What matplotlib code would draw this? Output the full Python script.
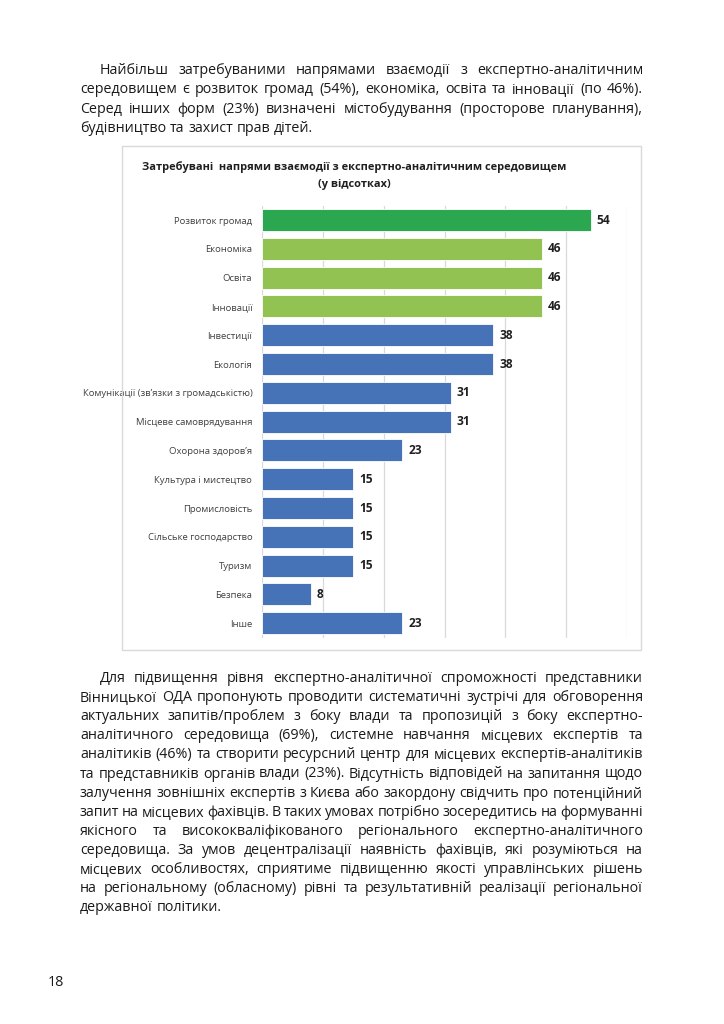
import matplotlib
matplotlib.use('Agg')
import matplotlib.pyplot as plt
from matplotlib.patches import Rectangle

plt.rcParams['font.family'] = ['Open Sans', 'Noto Sans', 'DejaVu Sans']

categories = ['Розвиток громад', 'Економіка', 'Освіта', 'Інновації', 'Інвестиції',
              'Екологія', 'Комунікації (зв’язки з громадськістю)', 'Місцеве самоврядування',
              'Охорона здоров’я', 'Культура і мистецтво', 'Промисловість',
              'Сільське господарство', 'Туризм', 'Безпека', 'Інше']
values = [54, 46, 46, 46, 38, 38, 31, 31, 23, 15, 15, 15, 15, 8, 23]
bar_colors = ['#2ba84f'] + ['#92c352'] * 3 + ['#4672b8'] * 11

title = 'Затребувані  напрями взаємодії з експертно-аналітичним середовищем\n(у відсотках)'

para1 = ['Найбільш затребуваними напрямами взаємодії з експертно-аналітичним',
         'середовищем є розвиток громад (54%), економіка, освіта та інновації (по 46%).',
         'Серед інших форм (23%) визначені містобудування (просторове планування),',
         'будівництво та захист прав дітей.']
para2 = ['Для підвищення рівня експертно-аналітичної спроможності представники',
         'Вінницької ОДА пропонують проводити систематичні зустрічі для обговорення',
         'актуальних запитів/проблем з боку влади та пропозицій з боку експертно-',
         'аналітичного середовища (69%), системне навчання місцевих експертів та',
         'аналітиків (46%) та створити ресурсний центр для місцевих експертів-аналітиків',
         'та представників органів влади (23%). Відсутність відповідей на запитання щодо',
         'залучення зовнішніх експертів з Києва або закордону свідчить про потенційний',
         'запит на місцевих фахівців. В таких умовах потрібно зосередитись на формуванні',
         'якісного та висококваліфікованого регіонального експертно-аналітичного',
         'середовища. За умов децентралізації наявність фахівців, які розуміються на',
         'місцевих особливостях, сприятиме підвищенню якості управлінських рішень',
         'на регіональному (обласному) рівні та результативній реалізації регіональної',
         'державної політики.']
page_number = '18'

W, H = 724, 1024
fig = plt.figure(figsize=(W / 100, H / 100), dpi=100)
renderer = fig.canvas.get_renderer()
BODY_SIZE = 10.3


def px(x, y):
    return x / W, 1 - y / H


def width_of(s):
    t = fig.text(0, 0, s, fontsize=BODY_SIZE)
    w = t.get_window_extent(renderer).width
    t.remove()
    return w


SPACE = width_of('н н') - width_of('нн')


def justified(lines, y0, step, left=80, indent=20, right=643):
    for i, line in enumerate(lines):
        y = y0 + i * step
        x_start = left + (indent if i == 0 else 0)
        words = line.split(' ')
        widths = [width_of(w) for w in words]
        if i == len(lines) - 1 or len(words) == 1:
            gap = SPACE
        else:
            gap = (right - x_start - sum(widths)) / (len(words) - 1)
        x = x_start
        for w, wd in zip(words, widths):
            fig.text(*px(x, y), w, fontsize=BODY_SIZE, color='#1a1a1a', va='baseline')
            x += wd + gap


justified(para1, 74, 19.4)
justified(para2, 682, 19.1)
fig.text(*px(48, 986), page_number, fontsize=BODY_SIZE, color='#1a1a1a', va='baseline')

# chart frame
fig.patches.append(Rectangle(px(122, 650), 519 / W, 504 / H, transform=fig.transFigure,
                             fill=False, edgecolor='#d9d9d9', linewidth=1))
fig.text(*px(354, 176), title, ha='center', va='center', fontsize=7.9,
         fontweight='bold', color='#1f1f1f', linespacing=1.75)

l, b = px(262, 637.6)
ax = fig.add_axes([l, b, 365 / W, 432 / H])
y = list(range(len(categories)))
ax.barh(y, values, height=0.76, color=bar_colors, edgecolor='white', linewidth=0.6, zorder=3)
ax.set_xlim(0, 60)
ax.set_ylim(len(categories) - 0.5, -0.5)
ax.set_xticks(range(0, 61, 10))
ax.set_xticklabels([])
ax.tick_params(axis='both', length=0)
ax.grid(axis='x', color='#d9d9d9', linewidth=0.9, zorder=0)
for s in ax.spines.values():
    s.set_visible(False)
ax.set_yticks(y)
ax.set_yticklabels(categories, fontsize=6.8, color='#404040')
ax.tick_params(axis='y', pad=7)
for yi, v in zip(y, values):
    ax.annotate(str(v), (v, yi), xytext=(4.5, 0), textcoords='offset points',
                va='center', ha='left', fontsize=8.6, fontweight='bold', color='#1f1f1f')

fig.savefig('out.png', dpi=100, facecolor='white')
